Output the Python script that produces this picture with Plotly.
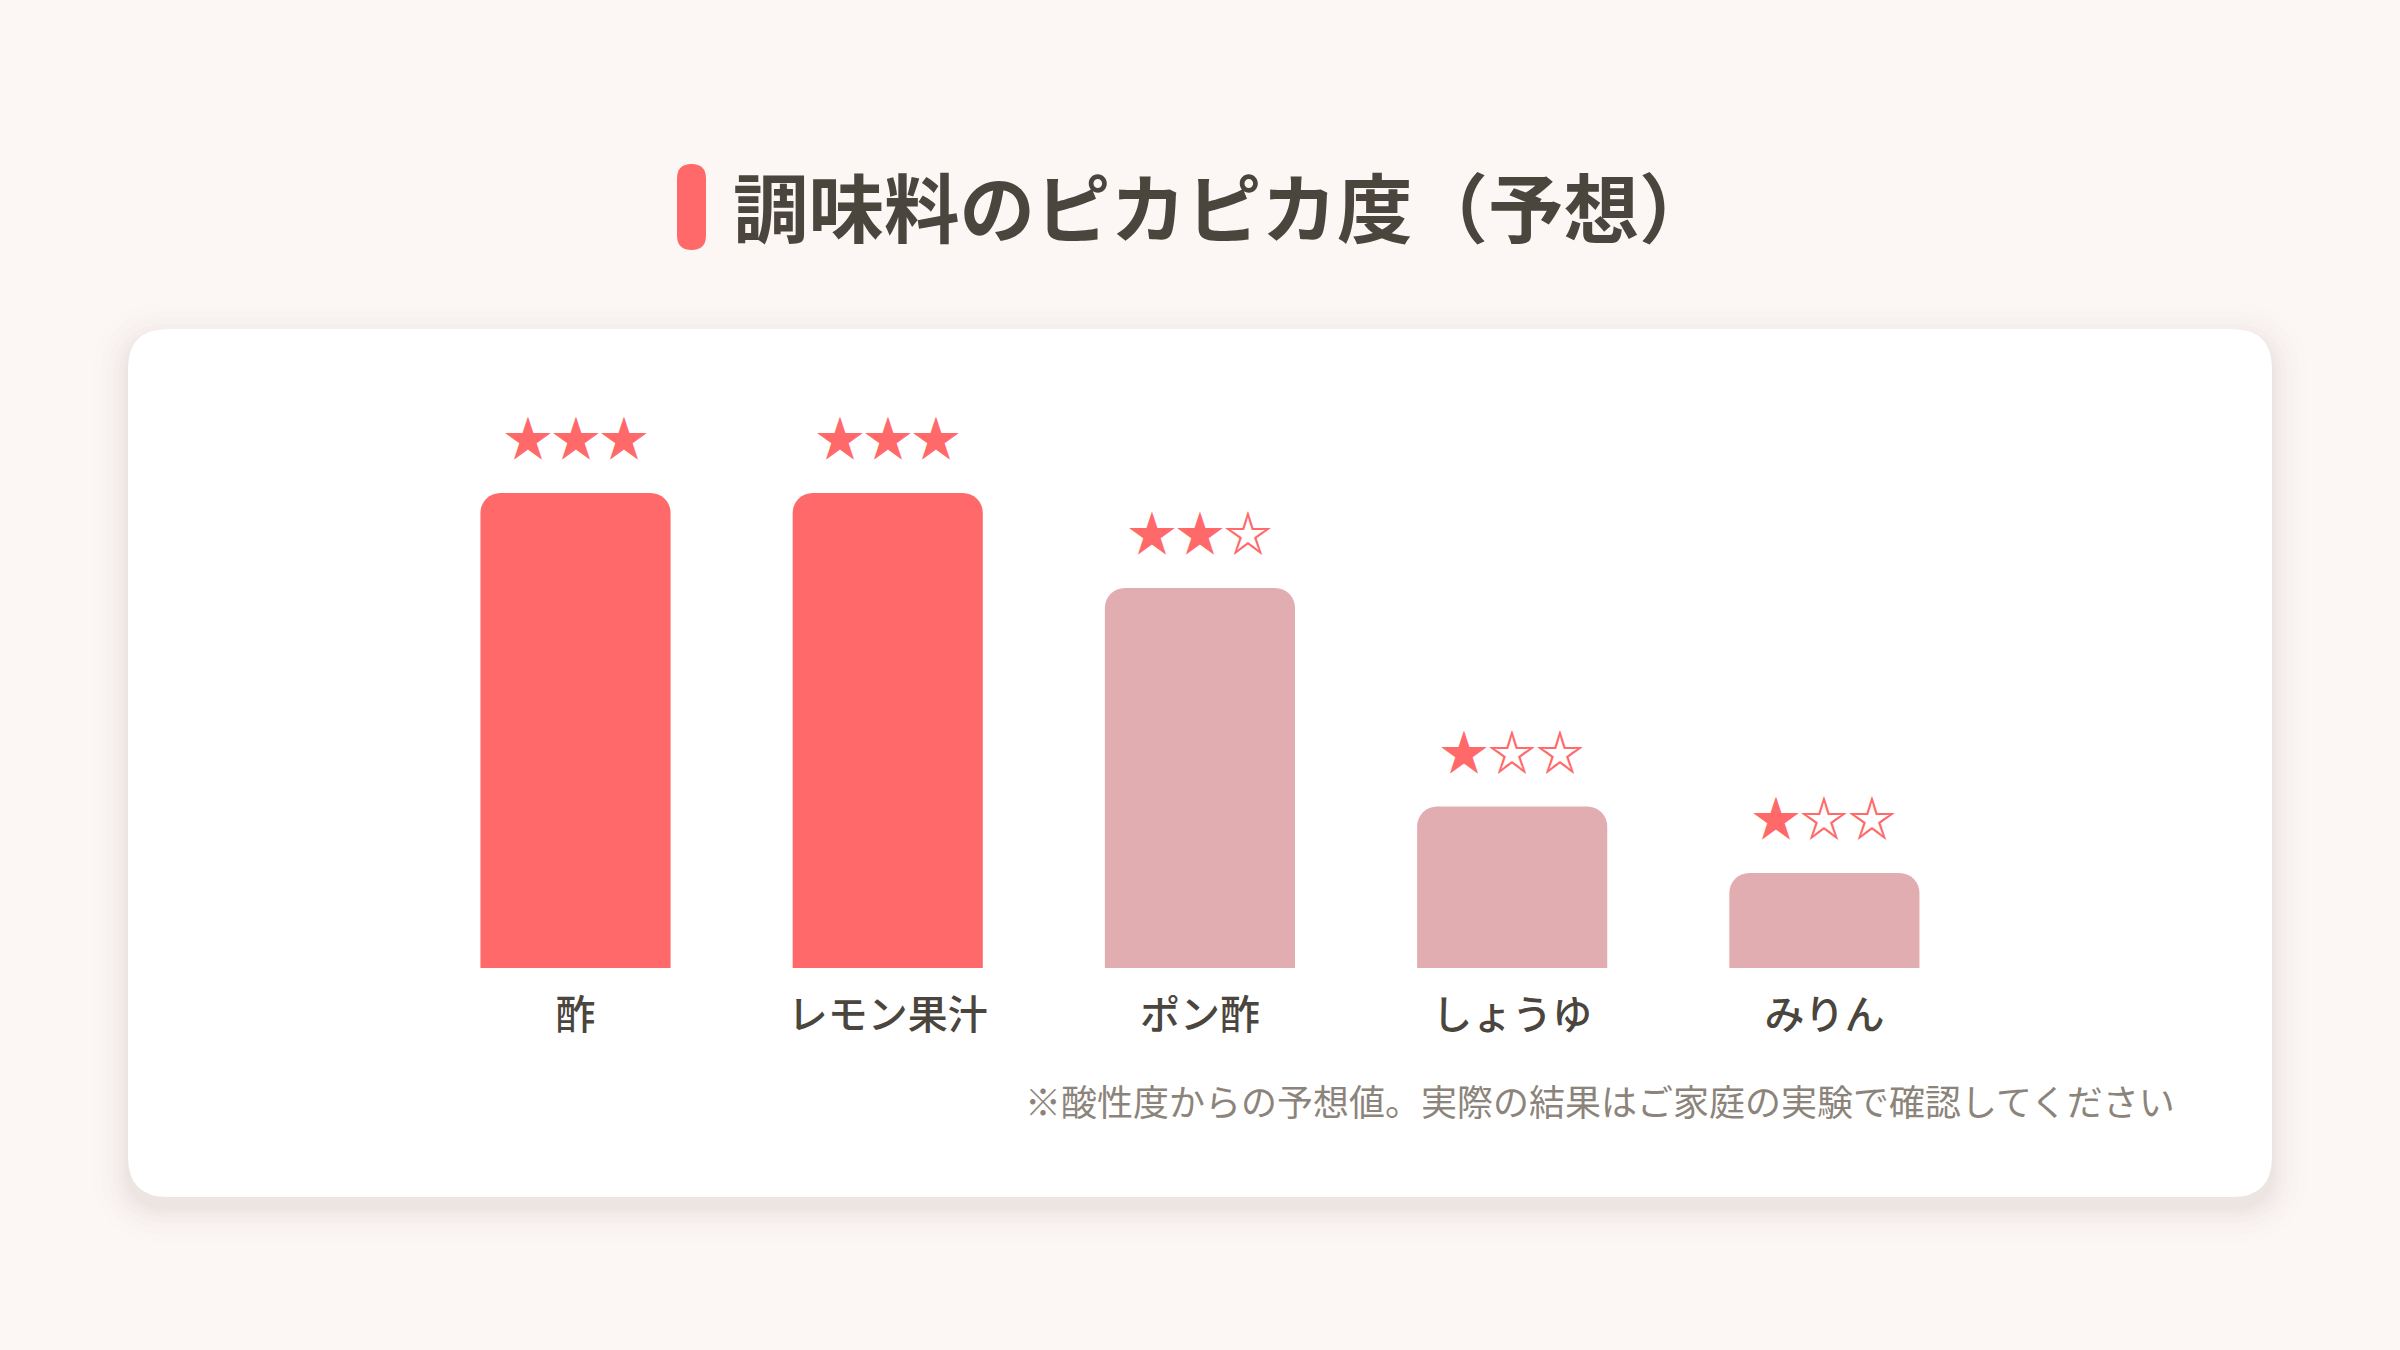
import plotly.graph_objects as go

# ---- data ----
categories = ["酢", "レモン果汁", "ポン酢", "しょうゆ", "みりん"]
scores = [100, 100, 80, 34, 20]          # predicted shine score (relative)
stars = [3, 3, 2, 1, 1]                  # star rating
title_text = "調味料のピカピカ度（予想）"
note_text = "※酸性度からの予想値。実際の結果はご家庭の実験で確認してください"

# ---- style ----
W, H = 2400, 1350
BG = "#FCF6F5"
RED = "#FF6969"
PALE = "#E2ADB0"
DARK = "#4A453D"
GREY = "#8C847B"
FONT = "Noto Sans CJK JP"

def px(x):
    return x / W

def py(y):
    return 1 - y / H

def rrect(x0, y0, x1, y1, r):
    """rounded rect path in paper coords from pixel box"""
    rx, ry = r / W, r / H
    X0, X1 = px(x0), px(x1)
    Y0, Y1 = py(y1), py(y0)  # bottom, top in paper
    return (f"M {X0+rx},{Y1} L {X1-rx},{Y1} Q {X1},{Y1} {X1},{Y1-ry} "
            f"L {X1},{Y0+ry} Q {X1},{Y0} {X1-rx},{Y0} "
            f"L {X0+rx},{Y0} Q {X0},{Y0} {X0},{Y0+ry} "
            f"L {X0},{Y1-ry} Q {X0},{Y1} {X0+rx},{Y1} Z")

colors = [RED if s == 3 else PALE for s in stars]

fig = go.Figure()
fig.add_trace(go.Bar(
    x=categories, y=scores, marker=dict(color=colors, line=dict(width=0)),
    hoverinfo="skip", showlegend=False,
))

shapes = []
# card shadow
for g, op in [(36, 0.008), (28, 0.010), (21, 0.012), (15, 0.014), (10, 0.016), (6, 0.018), (3, 0.02)]:
    shapes.append(dict(type="path", xref="paper", yref="paper",
                       path=rrect(128 - g, 329 - g + 10, 2272 + g, 1197 + g + 10, 40 + g),
                       fillcolor=f"rgba(120,80,70,{op})", line=dict(width=0), layer="below"))
# card
shapes.append(dict(type="path", xref="paper", yref="paper",
                   path=rrect(128, 329, 2272, 1197, 40),
                   fillcolor="#FFFFFF", line=dict(width=0), layer="below"))
# title pill
shapes.append(dict(type="path", xref="paper", yref="paper",
                   path=rrect(677, 164, 706, 250, 14.5),
                   fillcolor=RED, line=dict(width=0), layer="above"))

annotations = [
    dict(text=f"<b>{title_text}</b>", xref="paper", yref="paper",
         x=px(731), y=py(204), xanchor="left", yanchor="middle", showarrow=False,
         font=dict(family=FONT, size=75.5, color=DARK)),
    dict(text=note_text, xref="paper", yref="paper",
         x=px(2177), y=py(1100), xanchor="right", yanchor="middle", showarrow=False,
         font=dict(family=FONT, size=36, color=GREY)),
]
for c, v, s in zip(categories, scores, stars):
    annotations.append(dict(
        text="<b>" + "★" * s + "☆" * (3 - s) + "</b>", x=c, y=v, xref="x", yref="y",
        xanchor="center", yanchor="middle", yshift=58, showarrow=False,
        font=dict(family=FONT, size=48, color=RED)))

x_left, x_right = 419.4, 1980.5
y_top, y_bottom = 398, 968

fig.update_layout(
    width=W, height=H, paper_bgcolor=BG, plot_bgcolor="rgba(0,0,0,0)",
    margin=dict(l=0, r=0, t=0, b=0),
    barcornerradius=20, bargap=0.391,
    shapes=shapes, annotations=annotations,
    xaxis=dict(domain=[x_left / W, x_right / W], range=[-0.5, 4.5], type="category",
               showgrid=False, zeroline=False, showline=False,
               ticks="outside", ticklen=12, tickcolor="rgba(0,0,0,0)",
               tickfont=dict(family=FONT, size=40, color=DARK, weight=500)),
    yaxis=dict(domain=[1 - y_bottom / H, 1 - y_top / H], range=[0, 120], visible=False,
               fixedrange=True),
    font=dict(family=FONT),
)

fig.write_html("out.html", config={"displayModeBar": False},
               post_script="document.body.style.margin='0';")
